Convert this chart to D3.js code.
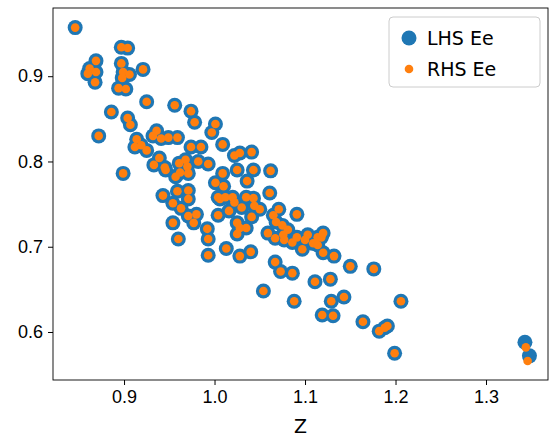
<!DOCTYPE html><html><head><meta charset="utf-8">
<script src="https://cdn.jsdelivr.net/npm/d3@7"></script>
<style>body{margin:0;background:#fff}svg{font-family:"DejaVu Sans",sans-serif}</style></head><body>
<script>
const zValues=[0.846,0.897,0.904,0.869,0.862,0.869,0.860,0.868,0.897,0.899,0.906,0.898,0.894,0.902,0.921,0.925,0.886,0.872,0.904,0.907,0.956,0.974,0.978,1.001,0.997,1.009,0.914,0.912,0.919,0.925,0.932,0.936,0.941,0.949,0.959,0.974,0.985,0.939,0.933,0.945,0.899,0.961,0.968,0.970,0.982,0.993,0.962,0.957,0.971,1.009,1.001,1.010,1.041,1.028,1.022,0.946,1.025,1.043,1.036,1.062,0.943,0.959,0.971,0.971,0.954,0.963,0.971,0.980,0.977,0.954,0.960,0.992,0.993,0.993,1.004,1.006,1.012,1.004,1.016,1.020,1.022,1.030,1.035,1.043,1.044,1.050,1.041,1.025,1.028,1.035,1.025,1.013,1.028,1.040,1.061,1.071,1.065,1.068,1.075,1.081,1.091,1.059,1.067,1.076,1.077,1.086,1.091,1.100,1.103,1.109,1.097,1.114,1.067,1.073,1.086,1.114,1.118,1.120,1.120,1.132,1.150,1.176,1.054,1.088,1.111,1.128,1.129,1.143,1.119,1.131,1.164,1.182,1.188,1.191,1.199,1.206,1.343,1.348];
const lhsEe=[0.957,0.934,0.933,0.918,0.909,0.905,0.903,0.893,0.915,0.905,0.902,0.898,0.886,0.885,0.908,0.870,0.858,0.830,0.851,0.843,0.866,0.859,0.846,0.844,0.834,0.820,0.826,0.817,0.819,0.813,0.830,0.836,0.827,0.828,0.828,0.817,0.817,0.804,0.796,0.793,0.786,0.798,0.802,0.794,0.800,0.797,0.787,0.782,0.786,0.786,0.775,0.771,0.811,0.810,0.807,0.790,0.790,0.790,0.777,0.789,0.760,0.765,0.766,0.756,0.751,0.745,0.736,0.738,0.728,0.728,0.709,0.721,0.709,0.690,0.758,0.756,0.758,0.737,0.742,0.758,0.752,0.746,0.758,0.757,0.748,0.744,0.735,0.728,0.722,0.722,0.715,0.698,0.689,0.694,0.763,0.744,0.737,0.729,0.725,0.720,0.738,0.716,0.710,0.714,0.708,0.705,0.711,0.708,0.714,0.704,0.697,0.711,0.682,0.671,0.669,0.702,0.711,0.716,0.693,0.689,0.677,0.674,0.648,0.636,0.659,0.662,0.636,0.641,0.620,0.619,0.612,0.601,0.605,0.607,0.575,0.636,0.588,0.572];
const rhsZ=zValues.slice(0,136).concat([1.344,1.346]);
const rhsEe=lhsEe.slice(0,136).concat([0.582,0.566]);
const xTicks=[0.9,1.0,1.1,1.2,1.3];
const yTicks=[0.6,0.7,0.8,0.9];

const W=558,H=444,m={l:53,r:10,t:8,b:64};
const svg=d3.select("body").append("svg").attr("width",W).attr("height",H);
const x=d3.scaleLinear().domain([0.8215,1.3685]).range([m.l,W-m.r]);
const y=d3.scaleLinear().domain([0.5437,0.98]).range([H-m.b,m.t]);
const fmt=d3.format(".1f");
svg.append("g").attr("transform",`translate(0,${H-m.b})`).call(d3.axisBottom(x).tickValues(xTicks).tickFormat(fmt).tickSize(5).tickPadding(5))
 .call(g=>{g.select(".domain").remove();g.selectAll("text").attr("font-size",18).attr("fill","#000");g.selectAll("line").attr("stroke","#000");});
svg.append("g").attr("transform",`translate(${m.l},0)`).call(d3.axisLeft(y).tickValues(yTicks).tickFormat(fmt).tickSize(5).tickPadding(5))
 .call(g=>{g.select(".domain").remove();g.selectAll("text").attr("font-size",18).attr("fill","#000");g.selectAll("line").attr("stroke","#000");});
svg.append("rect").attr("x",m.l).attr("y",m.t).attr("width",W-m.r-m.l).attr("height",H-m.b-m.t).attr("fill","none").attr("stroke","#000").attr("stroke-width",0.9);
svg.append("text").attr("x",(m.l+W-m.r)/2).attr("y",433).attr("text-anchor","middle").attr("font-size",19).text("Z");
svg.append("g").selectAll("circle").data(zValues).join("circle").attr("cx",d=>x(d)).attr("cy",(d,i)=>y(lhsEe[i])).attr("r",7.5).attr("fill","#1f77b4");
svg.append("g").selectAll("circle").data(rhsZ).join("circle").attr("cx",d=>x(d)).attr("cy",(d,i)=>y(rhsEe[i])).attr("r",4.3).attr("fill","#ff7f0e");
const lg=svg.append("g");
lg.append("rect").attr("x",389).attr("y",17).attr("width",151).attr("height",70).attr("rx",4).attr("fill","#fff").attr("stroke","#ccc");
lg.append("circle").attr("cx",409).attr("cy",38).attr("r",7.5).attr("fill","#1f77b4");
lg.append("circle").attr("cx",409).attr("cy",69).attr("r",4.3).attr("fill","#ff7f0e");
lg.append("text").attr("x",427).attr("y",45).attr("font-size",19).text("LHS Ee");
lg.append("text").attr("x",427).attr("y",76).attr("font-size",19).text("RHS Ee");
</script></body></html>
